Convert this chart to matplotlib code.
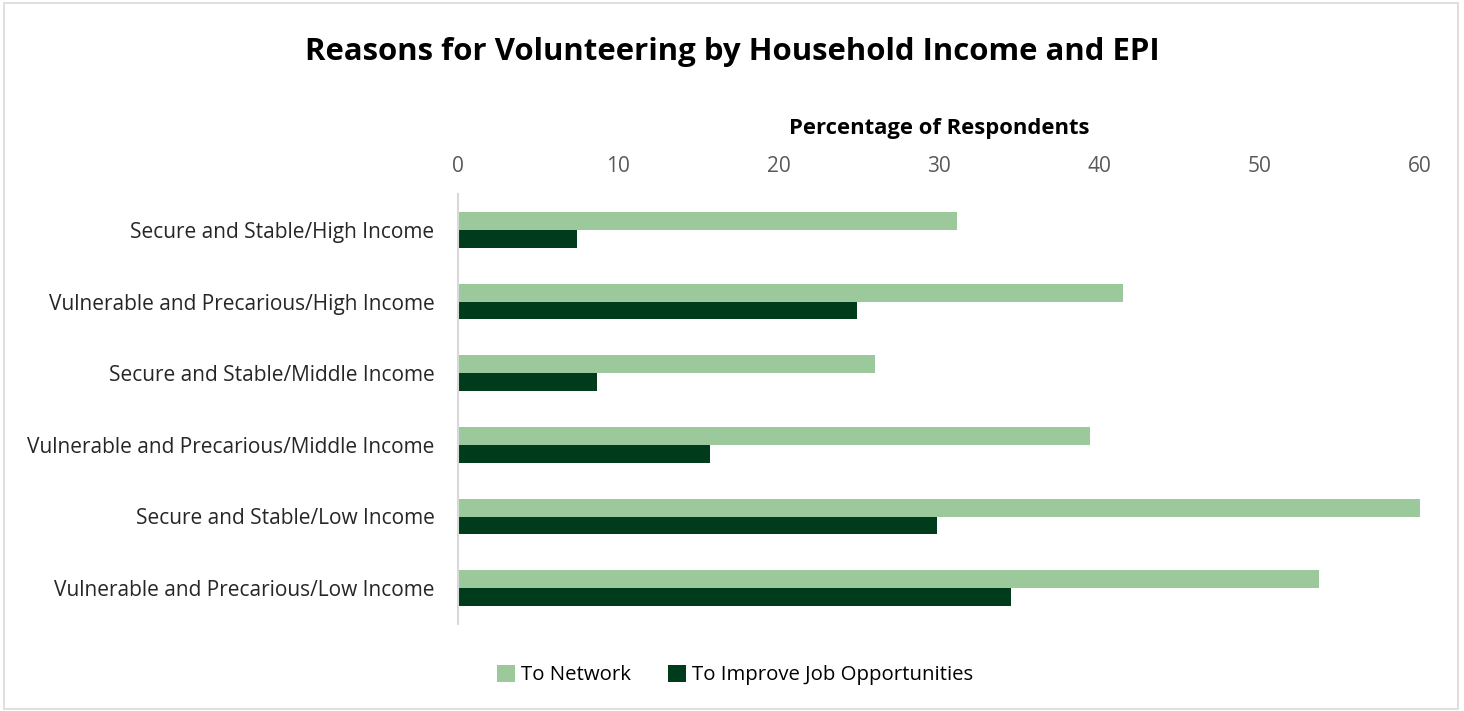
import numpy as np
import matplotlib
import matplotlib.pyplot as plt
from matplotlib.patches import Rectangle

matplotlib.use("Agg")

categories = [
    "Secure and Stable/High Income",
    "Vulnerable and Precarious/High Income",
    "Secure and Stable/Middle Income",
    "Vulnerable and Precarious/Middle Income",
    "Secure and Stable/Low Income",
    "Vulnerable and Precarious/Low Income",
]
to_network = [31.1, 41.5, 26.0, 39.4, 60.0, 53.7]
to_improve_jobs = [7.4, 24.9, 8.7, 15.7, 29.9, 34.5]
x_ticks = [0, 10, 20, 30, 40, 50, 60]

light_green = "#9BC99B"
dark_green = "#003B1B"
grey_text = "#595959"

plt.rcParams["font.family"] = ["Open Sans", "DejaVu Sans"]

fig = plt.figure(figsize=(14.64, 7.11), dpi=100)
ax = fig.add_axes([458 / 1464, 1 - 624 / 711, (1420 - 458) / 1464, (624 - 194) / 711])

y = np.arange(len(categories))
h = 0.25
ax.barh(y - h / 2, to_network, height=h, color=light_green, label="To Network")
ax.barh(y + h / 2, to_improve_jobs, height=h, color=dark_green,
        label="To Improve Job Opportunities")

ax.set_ylim(len(categories) - 0.5, -0.5)
ax.set_xlim(0, 60)
ax.set_yticks(y)
ax.set_yticklabels(categories, fontsize=15, color="#262626")
ax.set_xticks(x_ticks)
ax.set_xticklabels([str(t) for t in x_ticks], fontsize=15, color=grey_text)
ax.xaxis.tick_top()
ax.xaxis.set_label_position("top")
ax.tick_params(axis="both", length=0)
ax.tick_params(axis="x", pad=12)
ax.tick_params(axis="y", pad=17)
for side in ["top", "right", "bottom"]:
    ax.spines[side].set_visible(False)
ax.spines["left"].set_color("#D9D9D9")
ax.spines["left"].set_linewidth(1.5)

ax.set_xlabel("Percentage of Respondents", fontsize=15.8, fontweight="bold",
              labelpad=16)

fig.suptitle("Reasons for Volunteering by Household Income and EPI",
             fontsize=22.4, fontweight="bold", x=732 / 1464, y=1 - 52 / 711,
             va="center")

fig.legend(loc="center", bbox_to_anchor=(735 / 1464, 1 - 675 / 711), ncol=2,
           frameon=False, fontsize=14.7, handlelength=0.9, handleheight=0.9,
           columnspacing=1.8, handletextpad=0.3)

fig.patches.append(Rectangle((0.003, 0.003), 0.993, 0.993,
                             transform=fig.transFigure, fill=False,
                             edgecolor="#D9D9D9", linewidth=1.2))

fig.savefig("out.png", dpi=100)
